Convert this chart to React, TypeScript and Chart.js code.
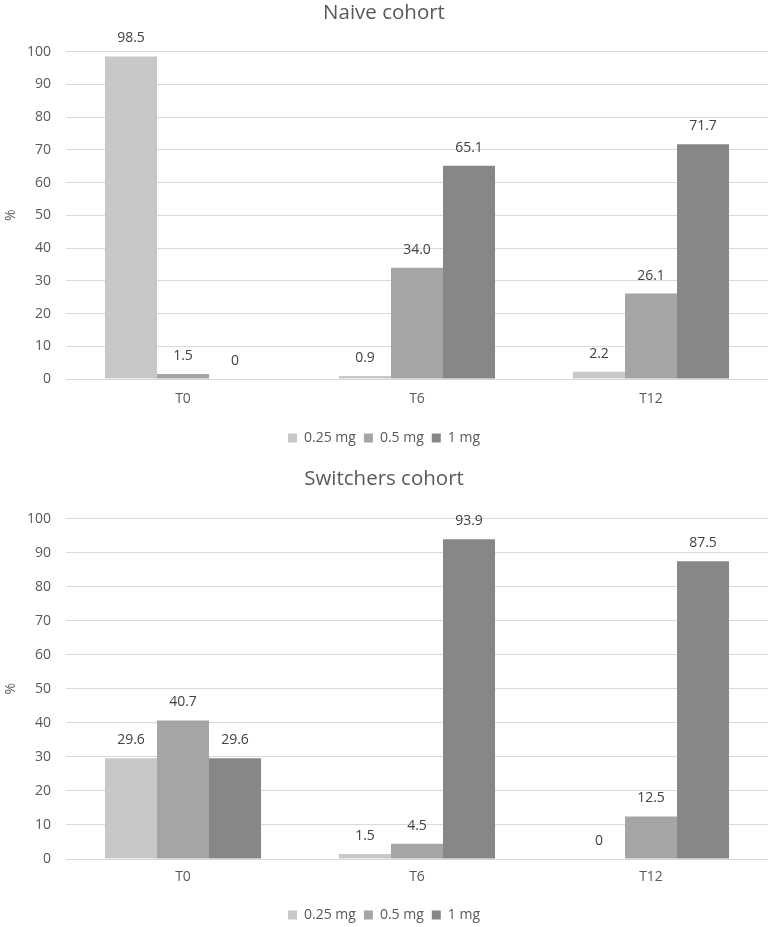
import React, { useEffect, useRef } from "react";
import { Chart, registerables } from "chart.js";

Chart.register(...registerables);

const categories = ["T0", "T6", "T12"];
const seriesNames = ["0.25 mg", "0.5 mg", "1 mg"];
const seriesColors = ["#c8c8c8", "#a5a5a5", "#878787"];

const naive025 = [98.5, 0.9, 2.2];
const naive05 = [1.5, 34.0, 26.1];
const naive1 = [0, 65.1, 71.7];

const switch025 = [29.6, 1.5, 0];
const switch05 = [40.7, 4.5, 12.5];
const switch1 = [29.6, 93.9, 87.5];

const yTicks = [0, 10, 20, 30, 40, 50, 60, 70, 80, 90, 100];

const FONT = "'Open Sans', 'Noto Sans', sans-serif";
const TEXT = "#595959";
const GRID = "#d9d9d9";
const FS = 14;

const valueLabels = {
  id: "valueLabels",
  afterDatasetsDraw(chart: any) {
    const ctx = chart.ctx;
    ctx.save();
    ctx.font = `${FS}px ${FONT}`;
    ctx.fillStyle = "#404040";
    ctx.textAlign = "center";
    ctx.textBaseline = "middle";
    chart.data.datasets.forEach((ds: any, i: number) => {
      const meta = chart.getDatasetMeta(i);
      meta.data.forEach((el: any, j: number) => {
        const v = ds.data[j] as number;
        const txt = v === 0 ? "0" : v.toFixed(1);
        ctx.fillText(txt, el.x, el.y - 18);
      });
    });
    ctx.restore();
  },
};

function makeConfig(
  title: string,
  s1: number[],
  s2: number[],
  s3: number[],
  titlePad: { top: number; bottom: number },
  xHeight: number,
  xPad: number,
  bottomPad: number
): any {
  return {
    type: "bar",
    data: {
      labels: categories,
      datasets: [s1, s2, s3].map((d, i) => ({
        label: seriesNames[i],
        data: d,
        backgroundColor: seriesColors[i],
        borderWidth: 0,
        categoryPercentage: 0.667,
        barPercentage: 1.0,
      })),
    },
    options: {
      responsive: true,
      maintainAspectRatio: false,
      animation: false,
      layout: { padding: { left: 0, right: 0, top: 0, bottom: bottomPad } },
      plugins: {
        title: {
          display: true,
          text: title,
          color: TEXT,
          font: { family: FONT, size: 20.5, weight: "normal" },
          padding: titlePad,
        },
        legend: {
          display: true,
          position: "bottom",
          labels: {
            color: TEXT,
            font: { family: FONT, size: FS },
            boxWidth: 9,
            boxHeight: 9,
            padding: 8,
          },
        },
        tooltip: { enabled: false },
      },
      scales: {
        x: {
          grid: { display: false, drawTicks: false },
          border: { display: true, color: GRID, width: 1 },
          ticks: {
            color: TEXT,
            font: { family: FONT, size: FS },
            padding: xPad,
          },
          afterFit(scale: any) {
            scale.height = xHeight;
          },
        },
        y: {
          min: 0,
          max: 100,
          afterBuildTicks(scale: any) {
            scale.ticks = yTicks.map((v) => ({ value: v }));
          },
          grid: { color: GRID, drawTicks: false, lineWidth: 1 },
          border: { display: false },
          ticks: {
            color: TEXT,
            font: { family: FONT, size: FS },
            padding: 15,
          },
          title: {
            display: true,
            text: "%",
            color: TEXT,
            font: { family: FONT, size: FS },
            padding: { top: 3, bottom: 0 },
          },
          afterFit(scale: any) {
            scale.width = 66;
          },
        },
      },
    },
    plugins: [valueLabels],
  };
}

function BarChart(props: { config: any; height: number }) {
  const ref = useRef<HTMLCanvasElement | null>(null);
  useEffect(() => {
    if (!ref.current) return;
    const chart = new Chart(ref.current, props.config);
    return () => chart.destroy();
  }, []);
  return (
    <div style={{ position: "relative", width: 768, height: props.height }}>
      <canvas ref={ref} />
    </div>
  );
}

export default function App() {
  useEffect(() => {
    document.body.style.margin = "0";
    document.body.style.background = "#ffffff";
  }, []);
  const c1 = makeConfig("Naive cohort", naive025, naive05, naive1, { top: 1, bottom: 26 }, 44, 12, 8);
  const c2 = makeConfig("Switchers cohort", switch025, switch05, switch1, { top: 4, bottom: 27 }, 41, 10, 0);
  return (
    <div
      style={{
        position: "absolute",
        left: 0,
        top: 0,
        width: 768,
        height: 927,
        overflow: "hidden",
        background: "#fff",
      }}
    >
      <BarChart config={c1} height={463} />
      <BarChart config={c2} height={469} />
    </div>
  );
}
